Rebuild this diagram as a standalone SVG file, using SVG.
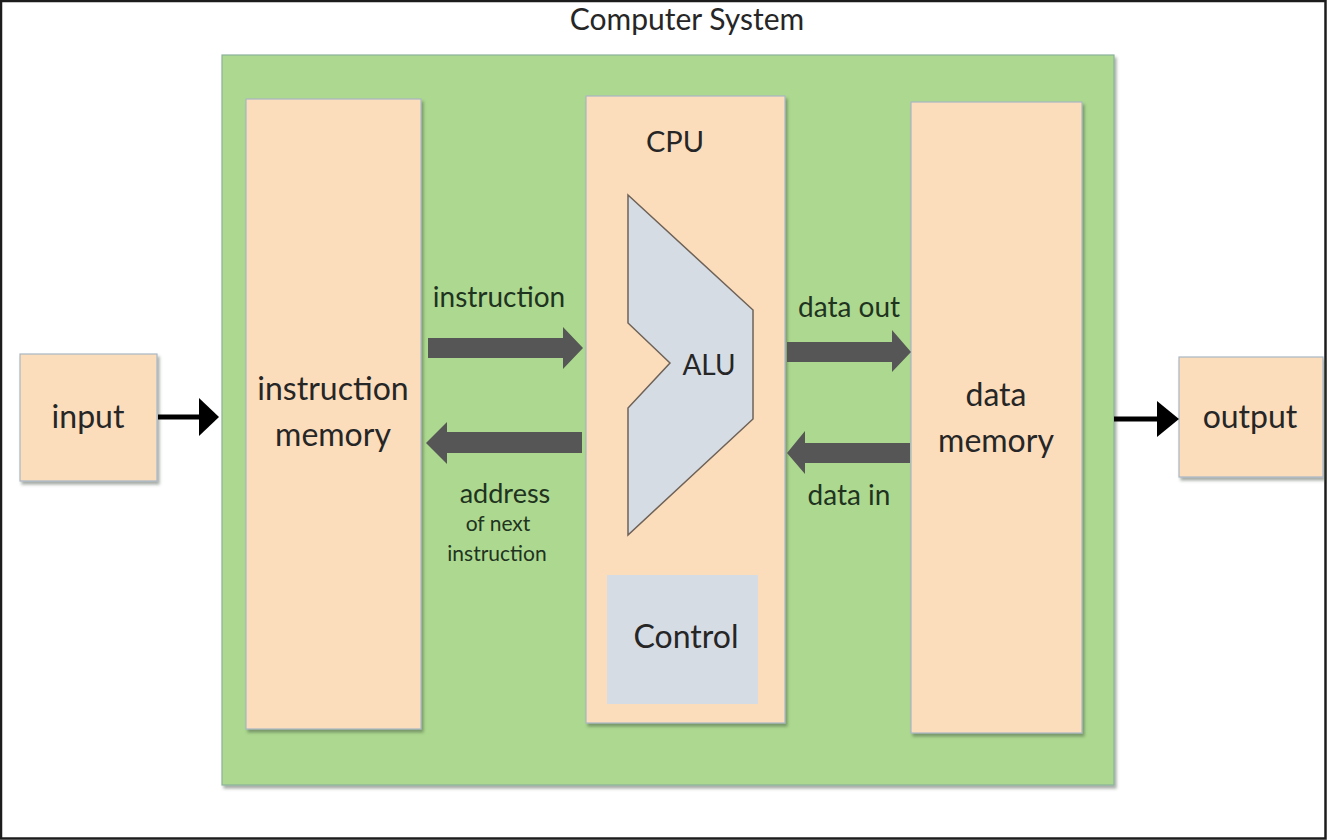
<svg xmlns="http://www.w3.org/2000/svg" width="1327" height="840" viewBox="0 0 1327 840">
  <style>
    .lbl { font-family: Lato, "Open Sans", "Liberation Sans", sans-serif; fill: #262626; text-anchor: middle; }
    .bus { font-family: Lato, "Open Sans", "Liberation Sans", sans-serif; fill: #1f331f; text-anchor: middle; }
    .box { fill: #fbddbc; stroke: #a9b6c4; stroke-width: 1.2; filter: url(#shadow); }
    .wire { stroke: #000; stroke-width: 5; fill: none; }
    .block { fill: #565656; }
  </style>
  <defs>
    <filter id="shadow" x="-10%" y="-10%" width="130%" height="130%">
      <feDropShadow dx="2" dy="3" stdDeviation="1.8" flood-color="#3c4a3c" flood-opacity="0.45"/>
    </filter>
  </defs>

  <!-- page frame -->
  <rect x="0" y="0" width="1327" height="840" fill="#ffffff"/>
  <rect x="1" y="1" width="1324.5" height="837.5" fill="none" stroke="#1c1c1c" stroke-width="2.5"/>

  <text class="lbl" x="687" y="30" font-size="30">Computer System</text>

  <!-- system enclosure -->
  <g id="computer-system">
    <rect x="222" y="55" width="892" height="730" fill="#acd98f" stroke="#8ab39a" stroke-width="1.2" filter="url(#shadow)"/>
  </g>

  <g id="input">
    <rect class="box" x="20" y="354" width="137" height="127"/>
    <text class="lbl" x="88" y="428" font-size="32">input</text>
  </g>

  <g id="output">
    <rect class="box" x="1179" y="357" width="144" height="120"/>
    <text class="lbl" x="1250" y="428" font-size="32">output</text>
  </g>

  <g id="instruction-memory">
    <rect class="box" x="246" y="99" width="175" height="630"/>
    <text class="lbl" x="333" y="400" font-size="32">instruction</text>
    <text class="lbl" x="333" y="446" font-size="32">memory</text>
  </g>

  <g id="cpu">
    <rect class="box" x="586" y="96" width="199" height="627"/>
    <text class="lbl" x="675" y="152" font-size="29">CPU</text>
  </g>

  <g id="alu">
    <polygon points="628,195 753,310 753,419 628,535 628,408 670,363 628,323" fill="#d6dce4" stroke="#6e6258" stroke-width="1.5"/>
    <text class="lbl" x="709" y="375" font-size="28">ALU</text>
  </g>

  <g id="control">
    <rect x="607" y="575" width="151" height="129" fill="#d6dce4"/>
    <text class="lbl" x="686" y="648" font-size="32">Control</text>
  </g>

  <g id="data-memory">
    <rect class="box" x="911" y="102" width="171" height="631"/>
    <text class="lbl" x="996" y="406" font-size="32">data</text>
    <text class="lbl" x="996" y="452" font-size="32">memory</text>
  </g>

  <g id="connectors">
    <!-- input -> instruction memory -->
    <line class="wire" x1="158" y1="417" x2="202" y2="417"/>
    <polygon points="199,398 219,417 199,436" fill="#000"/>
    <!-- data memory -> output -->
    <line class="wire" x1="1114" y1="419" x2="1160" y2="419"/>
    <polygon points="1157,401 1179,419 1157,437" fill="#000"/>

    <!-- instruction bus -->
    <polygon class="block" points="428,338 563,338 563,327 583,348 563,369 563,358 428,358"/>
    <text class="bus" x="499" y="307" font-size="28">instruction</text>

    <!-- address bus -->
    <polygon class="block" points="582,432 447,432 447,422 426,443 447,464 447,453 582,453"/>
    <text class="bus" x="505" y="503" font-size="27">address</text>
    <text class="bus" x="498" y="531" font-size="21">of next</text>
    <text class="bus" x="497" y="561" font-size="21">instruction</text>

    <!-- data out bus -->
    <polygon class="block" points="787,342 892,342 892,330 911,352 892,372 892,362 787,362"/>
    <text class="bus" x="849" y="317" font-size="28">data out</text>

    <!-- data in bus -->
    <polygon class="block" points="910,443 805,443 805,431 787,453 805,474 805,463 910,463"/>
    <text class="bus" x="849" y="505" font-size="28">data in</text>
  </g>
</svg>
